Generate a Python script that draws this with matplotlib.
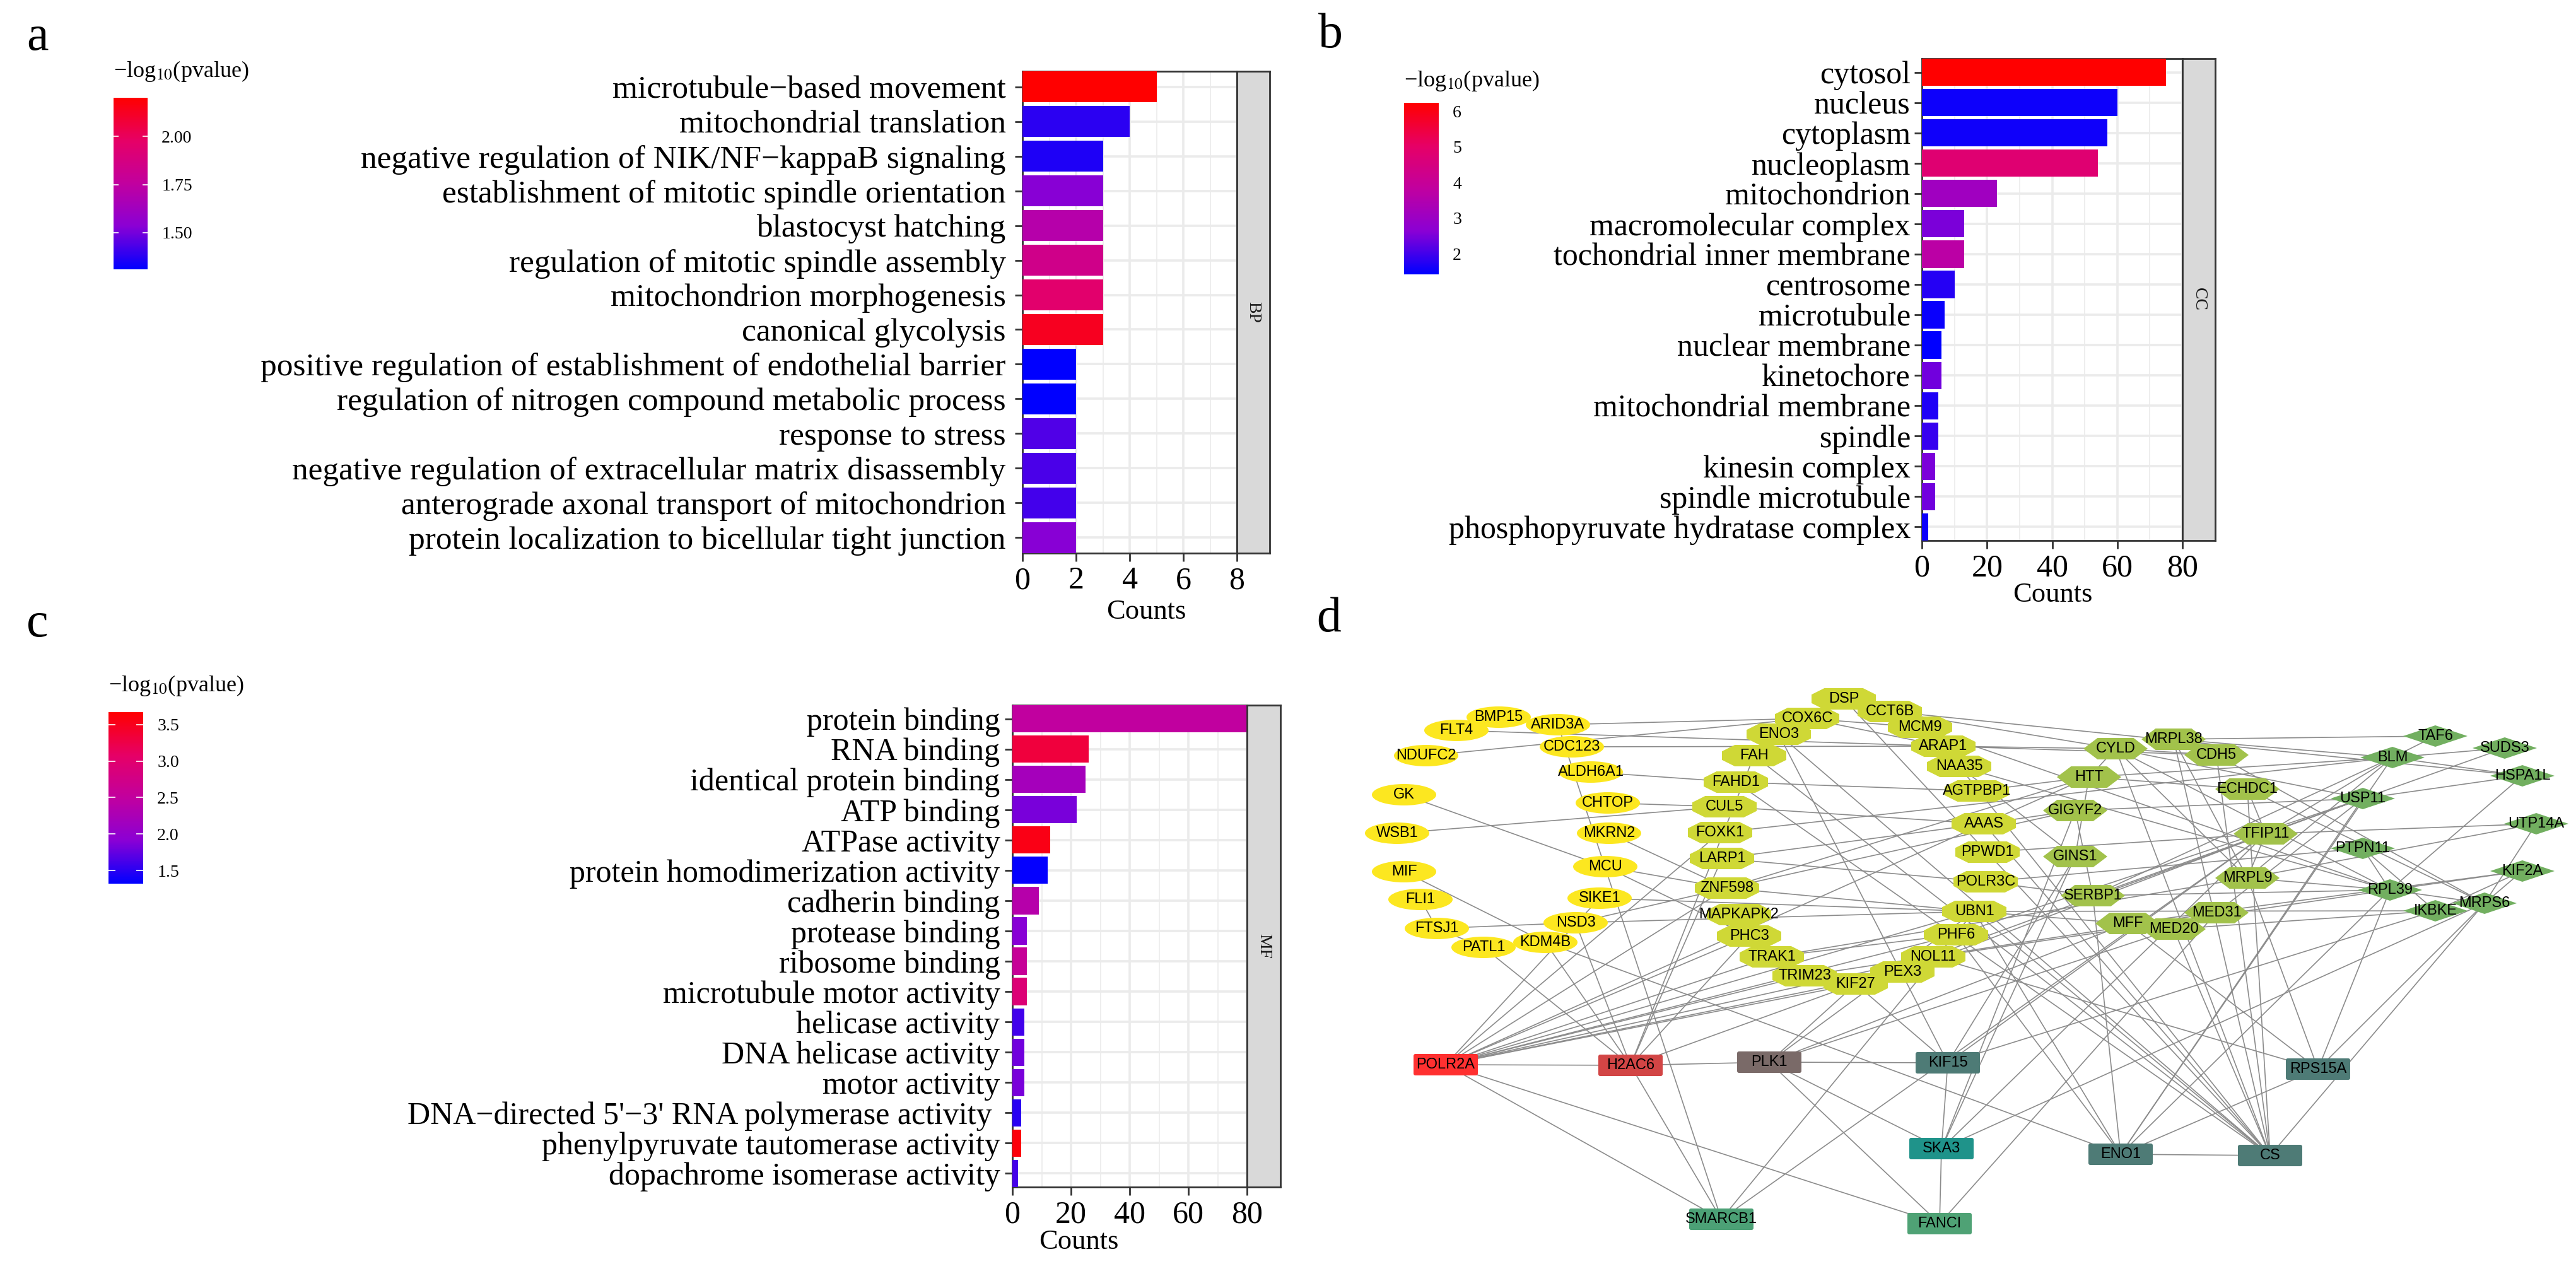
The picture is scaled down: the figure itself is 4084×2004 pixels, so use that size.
import matplotlib
matplotlib.use('Agg')
import numpy as np
import matplotlib.pyplot as plt
from matplotlib.cm import ScalarMappable
from matplotlib.colors import LinearSegmentedColormap, Normalize
from matplotlib.patches import Ellipse, Polygon, FancyBboxPatch
from matplotlib.ticker import MultipleLocator

W, H = 4084, 2004
SERIF = ['Liberation Serif', 'DejaVu Serif']
plt.rcParams['font.family'] = SERIF
plt.rcParams['mathtext.fontset'] = 'stix'

# panel a
bp_terms = ['microtubule−based movement', 'mitochondrial translation',
            'negative regulation of NIK/NF−kappaB signaling',
            'establishment of mitotic spindle orientation', 'blastocyst hatching',
            'regulation of mitotic spindle assembly', 'mitochondrion morphogenesis',
            'canonical glycolysis', 'positive regulation of establishment of endothelial barrier',
            'regulation of nitrogen compound metabolic process', 'response to stress',
            'negative regulation of extracellular matrix disassembly',
            'anterograde axonal transport of mitochondrion',
            'protein localization to bicellular tight junction']
bp_counts = [5, 4, 3, 3, 3, 3, 3, 3, 2, 2, 2, 2, 2, 2]
bp_pval = [2.2, 1.38, 1.36, 1.53, 1.71, 1.84, 1.95, 2.13, 1.31, 1.31, 1.44, 1.43, 1.42, 1.53]

# panel b
cc_terms = ['cytosol', 'nucleus', 'cytoplasm', 'nucleoplasm', 'mitochondrion',
            'macromolecular complex', 'tochondrial inner membrane', 'centrosome',
            'microtubule', 'nuclear membrane', 'kinetochore', 'mitochondrial membrane',
            'spindle', 'kinesin complex', 'spindle microtubule',
            'phosphopyruvate hydratase complex']
cc_counts = [75, 60, 57, 54, 23, 13, 13, 10, 7, 6, 6, 5, 5, 4, 4, 2]
cc_pval = [6.24, 1.55, 1.56, 4.8, 3.1, 2.5, 3.7, 1.75, 1.5, 1.42, 2.4, 1.7, 1.9, 2.5, 2.4, 1.55]

# panel c
mf_terms = ['protein binding', 'RNA binding', 'identical protein binding', 'ATP binding',
            'ATPase activity', 'protein homodimerization activity', 'cadherin binding',
            'protease binding', 'ribosome binding', 'microtubule motor activity',
            'helicase activity', 'DNA helicase activity', 'motor activity',
            "DNA−directed 5'−3' RNA polymerase activity ", 'phenylpyruvate tautomerase activity',
            'dopachrome isomerase activity']
mf_counts = [81, 26, 25, 22, 13, 12, 9, 5, 5, 5, 4, 4, 4, 3, 3, 2]
mf_pval = [2.5, 3.32, 2.2, 1.84, 3.55, 1.34, 2.38, 1.9, 2.57, 2.92, 1.6, 1.8, 1.84, 1.5, 3.6, 1.62]

# panel d, node positions
ell_names = ['BMP15', 'FLT4', 'ARID3A', 'NDUFC2', 'CDC123', 'ALDH6A1', 'GK', 'CHTOP', 'WSB1',
             'MKRN2', 'MCU', 'MIF', 'SIKE1', 'FLI1', 'NSD3', 'FTSJ1', 'KDM4B', 'PATL1']
ell_x = [2376, 2309, 2470, 2261, 2492, 2522, 2226, 2549, 2215, 2551, 2545, 2226, 2536, 2252, 2498, 2278, 2450, 2352]
ell_y = [1137, 1158, 1149, 1198, 1184, 1224, 1260, 1273, 1321, 1321, 1374, 1382, 1424, 1426, 1463, 1472, 1494, 1502]

oct_names = ['DSP', 'CCT6B', 'COX6C', 'MCM9', 'ENO3', 'ARAP1', 'FAH', 'NAA35', 'FAHD1', 'AGTPBP1',
             'CUL5', 'AAAS', 'FOXK1', 'PPWD1', 'LARP1', 'POLR3C', 'ZNF598', 'UBN1', 'MAPKAPK2',
             'PHC3', 'PHF6', 'TRAK1', 'NOL11', 'PEX3', 'TRIM23', 'KIF27']
oct_x = [2923, 2996, 2865, 3044, 2820, 3081, 2781, 3106, 2752, 3134, 2734, 3145, 2727, 3151, 2730,
         3148, 2738, 3130, 2757, 2773, 3101, 2809, 3065, 3016, 2861, 2942]
oct_y = [1108, 1128, 1139, 1153, 1164, 1183, 1198, 1215, 1240, 1254, 1279, 1306, 1320, 1351, 1361,
         1398, 1408, 1445, 1450, 1484, 1482, 1517, 1517, 1541, 1547, 1560]

hex_names = ['CYLD', 'MRPL38', 'CDH5', 'HTT', 'ECHDC1', 'GIGYF2', 'TFIP11', 'GINS1', 'MRPL9',
             'SERBP1', 'MED20', 'MED31', 'MFF']
hex_x = [3354, 3446, 3514, 3312, 3563, 3290, 3592, 3290, 3563, 3318, 3446, 3514, 3373]
hex_y = [1187, 1172, 1197, 1232, 1251, 1285, 1322, 1358, 1392, 1420, 1473, 1447, 1464]

dia_names = ['TAF6', 'SUDS3', 'BLM', 'HSPA1L', 'USP11', 'UTP14A', 'PTPN11', 'KIF2A', 'RPL39', 'MRPS6', 'IKBKE']
dia_x = [3861, 3971, 3793, 3999, 3746, 4021, 3746, 3999, 3789, 3939, 3861]
dia_y = [1167, 1186, 1201, 1230, 1266, 1306, 1345, 1381, 1411, 1432, 1444]

box_names = ['POLR2A', 'H2AC6', 'PLK1', 'KIF15', 'RPS15A', 'SKA3', 'ENO1', 'CS', 'SMARCB1', 'FANCI']
box_x = [2292, 2585, 2805, 3088, 3675, 3078, 3362, 3599, 2729, 3075]
box_y = [1688, 1689, 1684, 1685, 1695, 1821, 1830, 1832, 1933, 1940]
box_colors = ['#FF3030', '#D24545', '#7A6A68', '#4E7B76', '#4E7B76', '#1F938A', '#4E7B76', '#4E7B76', '#4CA176', '#4FA275']

edges = [('ARID3A', 'COX6C'), ('FLT4', 'ARAP1'), ('NDUFC2', 'COX6C'), ('CDC123', 'ARAP1'),
         ('COX6C', 'MCM9'), ('COX6C', 'ARAP1'), ('ALDH6A1', 'FAHD1'), ('FAHD1', 'AGTPBP1'),
         ('CHTOP', 'CUL5'), ('WSB1', 'CUL5'), ('CUL5', 'AAAS'), ('FOXK1', 'BLM'),
         ('LARP1', 'AAAS'), ('LARP1', 'POLR3C'), ('MCU', 'ZNF598'), ('MCU', 'PHC3'),
         ('GK', 'MCU'), ('MIF', 'KDM4B'), ('MKRN2', 'ZNF598'), ('FLI1', 'FTSJ1'),
         ('FTSJ1', 'NSD3'), ('FTSJ1', 'PATL1'), ('NSD3', 'UBN1'), ('NSD3', 'ZNF598'),
         ('SIKE1', 'UBN1'), ('ZNF598', 'UBN1'), ('ZNF598', 'HTT'), ('ZNF598', 'GIGYF2'),
         ('DSP', 'CS'), ('ENO3', 'CS'), ('ENO3', 'KIF15'), ('FAH', 'CS'), ('FAHD1', 'CS'),
         ('ARID3A', 'SMARCB1'), ('SIKE1', 'POLR2A'), ('KDM4B', 'H2AC6'), ('PATL1', 'H2AC6'),
         ('NSD3', 'H2AC6'), ('KDM4B', 'ENO1'), ('PHC3', 'POLR2A'), ('PHC3', 'H2AC6'),
         ('FOXK1', 'POLR2A'), ('LARP1', 'H2AC6'), ('FAH', 'H2AC6'), ('CCT6B', 'HSPA1L'),
         ('CCT6B', 'CYLD'), ('MCM9', 'RPL39'), ('ARAP1', 'CYLD'), ('ARAP1', 'CDH5'),
         ('POLR2A', 'H2AC6'), ('H2AC6', 'PLK1'), ('PLK1', 'KIF15'), ('POLR2A', 'TRAK1'),
         ('POLR2A', 'TRIM23'), ('POLR2A', 'KIF27'), ('POLR2A', 'PEX3'), ('POLR2A', 'NOL11'),
         ('POLR2A', 'PHF6'), ('POLR2A', 'SMARCB1'), ('POLR2A', 'FANCI'), ('POLR2A', 'UBN1'),
         ('H2AC6', 'KIF27'), ('H2AC6', 'SMARCB1'), ('PLK1', 'KIF27'), ('PLK1', 'UBN1'),
         ('PLK1', 'MED20'), ('PLK1', 'SKA3'), ('PLK1', 'FANCI'), ('KIF15', 'KIF27'),
         ('KIF15', 'SKA3'), ('KIF15', 'GINS1'), ('KIF15', 'IKBKE'), ('SKA3', 'MRPS6'),
         ('SKA3', 'TFIP11'), ('SKA3', 'GINS1'), ('SKA3', 'FANCI'), ('SMARCB1', 'UBN1'),
         ('SMARCB1', 'TFIP11'), ('FANCI', 'MED31'), ('ENO1', 'UBN1'), ('ENO1', 'SERBP1'),
         ('ENO1', 'RPL39'), ('ENO1', 'RPS15A'), ('ENO1', 'CS'), ('ENO1', 'PHF6'),
         ('CS', 'MRPL38'), ('CS', 'ECHDC1'), ('CS', 'NAA35'), ('RPS15A', 'NOL11'),
         ('RPS15A', 'MFF'), ('RPS15A', 'MRPL9'), ('RPS15A', 'RPL39'), ('RPS15A', 'MRPS6'),
         ('TAF6', 'MRPL38'), ('TAF6', 'BLM'), ('BLM', 'SUDS3'), ('BLM', 'HSPA1L'),
         ('BLM', 'MRPL38'), ('BLM', 'TFIP11'), ('BLM', 'MRPL9'), ('BLM', 'HTT'),
         ('BLM', 'SERBP1'), ('USP11', 'SUDS3'), ('USP11', 'HSPA1L'), ('USP11', 'CYLD'),
         ('USP11', 'GIGYF2'), ('USP11', 'TFIP11'), ('USP11', 'SERBP1'), ('USP11', 'MED31'),
         ('UTP14A', 'TFIP11'), ('UTP14A', 'MRPL9'), ('UTP14A', 'MRPS6'), ('HSPA1L', 'RPL39'),
         ('KIF2A', 'RPL39'), ('KIF2A', 'MRPS6'), ('KIF2A', 'IKBKE'), ('KIF2A', 'MFF'),
         ('RPL39', 'MRPL9'), ('RPL39', 'SERBP1'), ('RPL39', 'CYLD'), ('PTPN11', 'POLR3C'),
         ('PTPN11', 'RPL39'), ('PTPN11', 'IKBKE'), ('IKBKE', 'UBN1'), ('IKBKE', 'MED20'),
         ('MRPS6', 'RPL39'), ('MRPS6', 'CDH5'), ('MRPS6', 'ECHDC1'), ('CYLD', 'HTT'),
         ('CYLD', 'CDH5'), ('CYLD', 'MRPL9'), ('MRPL38', 'MRPL9'), ('ECHDC1', 'HTT'),
         ('ECHDC1', 'TFIP11'), ('GIGYF2', 'AAAS'), ('GIGYF2', 'SERBP1'), ('HTT', 'GINS1'),
         ('HTT', 'AGTPBP1'), ('HTT', 'AAAS'), ('NAA35', 'RPL39'), ('NAA35', 'GINS1'),
         ('PPWD1', 'TFIP11'), ('POLR3C', 'SERBP1'), ('UBN1', 'MFF'), ('MED31', 'MED20'),
         ('TFIP11', 'MRPL9'), ('TRAK1', 'MRPL9'), ('PEX3', 'TFIP11'), ('NOL11', 'RPL39'),
         ('PHF6', 'USP11'), ('TRIM23', 'MED31'), ('KIF27', 'USP11'), ('TRAK1', 'PHF6'),
         ('AAAS', 'POLR2A'), ('ZNF598', 'POLR2A'), ('MFF', 'PLK1'), ('TFIP11', 'KIF15'),
         ('GIGYF2', 'SKA3'), ('MRPS6', 'CS'), ('BLM', 'ENO1'), ('USP11', 'ENO1'),
         ('CDH5', 'CS'), ('CYLD', 'CS'), ('MED20', 'CS'), ('UBN1', 'CS'), ('AAAS', 'CS')]

blue_red = LinearSegmentedColormap.from_list(
    'bluered', [(0, '#0000FF'), (0.25, '#8A00D5'), (0.5, '#C1009F'), (0.75, '#E60066'), (1, '#FF0000')])


def px_axes(fig, x0, y0, x1, y1):
    return fig.add_axes([x0 / W, 1 - y1 / H, (x1 - x0) / W, (y1 - y0) / H])


def ftext(fig, x, y, s, **kw):
    kw.setdefault('family', SERIF)
    fig.text(x / W, 1 - y / H, s, va='center', **kw)


def bar_panel(fig, box, strip_x1, terms, counts, pvals, vlim, xmax, major, strip, label_size, ypad):
    x0, y0, x1, y1 = box
    ax = px_axes(fig, x0, y0, x1, y1)
    norm = Normalize(*vlim)
    pos = np.arange(len(terms))
    ax.barh(pos, counts, height=0.9, color=blue_red(norm(np.array(pvals))), zorder=3)
    ax.set_xlim(0, xmax)
    ax.set_ylim(len(terms) - 0.55, -0.45)
    ax.set_yticks(pos)
    ax.set_yticklabels(terms, fontsize=label_size)
    ax.xaxis.set_major_locator(MultipleLocator(major))
    ax.xaxis.set_minor_locator(MultipleLocator(major / 2))
    ax.grid(True, which='major', color='#EBEBEB', lw=2.6, zorder=0)
    ax.grid(True, which='minor', axis='x', color='#EBEBEB', lw=1.2, zorder=0)
    ax.set_axisbelow(True)
    ax.tick_params(axis='x', which='minor', length=0)
    ax.tick_params(axis='x', which='major', labelsize=36, length=9, width=2, color='#333333', pad=6)
    ax.tick_params(axis='y', length=9, width=2, color='#333333', pad=ypad)
    for s in ax.spines.values():
        s.set_color('#333333')
        s.set_linewidth(2)
    sx = px_axes(fig, x1, y0, strip_x1, y1)
    sx.set_facecolor('#D9D9D9')
    sx.set_xticks([])
    sx.set_yticks([])
    for s in sx.spines.values():
        s.set_color('#333333')
        s.set_linewidth(2)
    sx.text(0.5, 0.5, strip, rotation=270, ha='center', va='center', fontsize=20,
            color='#1A1A1A', transform=sx.transAxes)
    return ax


def legend(fig, box, vlim, ticks, tick_fmt, title_y, tick_len):
    x0, y0, x1, y1 = box
    cax = px_axes(fig, x0, y0, x1, y1)
    cb = fig.colorbar(ScalarMappable(Normalize(*vlim), blue_red), cax=cax)
    cb.outline.set_visible(False)
    cb.set_ticks(ticks, labels=[tick_fmt % t for t in ticks])
    cax.tick_params(axis='y', left=True, right=True, direction='in', length=tick_len, width=1.2,
                    color='white', labelsize=20, pad=16)
    ftext(fig, x0, title_y, '−log$_{10}$(pvalue)', fontsize=26, ha='left')


fig = plt.figure(figsize=(W / 100, H / 100), dpi=100, facecolor='white')

bar_panel(fig, (1621, 113, 1961, 877), 2013, bp_terms, bp_counts, bp_pval, (1.31, 2.2), 8, 2, 'BP', 37, 10)
bar_panel(fig, (3047, 93, 3460, 857), 3512, cc_terms, cc_counts, cc_pval, (1.42, 6.24), 80, 20, 'CC', 36, 4)
bar_panel(fig, (1605, 1118, 1977, 1882), 2030, mf_terms, mf_counts, mf_pval, (1.32, 3.67), 80, 20, 'MF', 36, 5)

legend(fig, (180, 155, 234, 427), (1.31, 2.2), [1.5, 1.75, 2.0], '%.2f', 113, 6)
legend(fig, (2226, 163, 2281, 435), (1.42, 6.24), [2, 3, 4, 5, 6], '%d', 128, 0)
legend(fig, (172, 1129, 227, 1401), (1.32, 3.67), [1.5, 2.0, 2.5, 3.0, 3.5], '%.1f', 1087, 8)

ftext(fig, 1817, 970, 'Counts', fontsize=32, ha='center')
ftext(fig, 3254, 943, 'Counts', fontsize=32, ha='center')
ftext(fig, 1710, 1969, 'Counts', fontsize=32, ha='center')

ftext(fig, 59, 60, 'a', fontsize=56, ha='center')
ftext(fig, 2109, 56, 'b', fontsize=56, ha='center')
ftext(fig, 59, 990, 'c', fontsize=56, ha='center')
ftext(fig, 2107, 982, 'd', fontsize=56, ha='center')

# network panel uses its own axes in image pixels
net = px_axes(fig, 2130, 1040, 4084, 2004)
net.set_xlim(2130, 4084)
net.set_ylim(2004, 1040)
net.axis('off')

pos = {}
for names, xs, ys in [(ell_names, ell_x, ell_y), (oct_names, oct_x, oct_y), (hex_names, hex_x, hex_y),
                      (dia_names, dia_x, dia_y), (box_names, box_x, box_y)]:
    pos.update({n: (x, y) for n, x, y in zip(names, xs, ys)})

for a, b in edges:
    net.plot([pos[a][0], pos[b][0]], [pos[a][1], pos[b][1]], color='#8C8C8C', lw=1.2, zorder=1)

nw, nh = 102, 34
oct_shape = np.array([(-.5, -.2), (-.3, -.5), (.3, -.5), (.5, -.2), (.5, .2), (.3, .5), (-.3, .5), (-.5, .2)])
hex_shape = np.array([(-.5, 0), (-.28, -.5), (.28, -.5), (.5, 0), (.28, .5), (-.28, .5)])
dia_shape = np.array([(-.5, 0), (0, -.5), (.5, 0), (0, .5)])

for n, x, y in zip(ell_names, ell_x, ell_y):
    net.add_patch(Ellipse((x, y), nw, nh, color='#FCE720', lw=0, zorder=2))
for names, xs, ys, shape, col in [(oct_names, oct_x, oct_y, oct_shape, '#CFD836'),
                                  (hex_names, hex_x, hex_y, hex_shape, '#A2C24B'),
                                  (dia_names, dia_x, dia_y, dia_shape, '#72AF60')]:
    for x, y in zip(xs, ys):
        net.add_patch(Polygon(shape * [nw, nh] + [x, y], closed=True, color=col, lw=0, zorder=2))
for x, y, col in zip(box_x, box_y, box_colors):
    net.add_patch(FancyBboxPatch((x - nw / 2 + 3, y - nh / 2 + 3), nw - 6, nh - 6,
                                 boxstyle='round,pad=3,rounding_size=3', fc=col, ec=col, lw=0, zorder=2))
for n, (x, y) in pos.items():
    net.text(x, y, n, ha='center', va='center', fontsize=17, family=['Liberation Sans', 'DejaVu Sans'],
             color='black', zorder=3)

fig.savefig('out.png', dpi=100)
